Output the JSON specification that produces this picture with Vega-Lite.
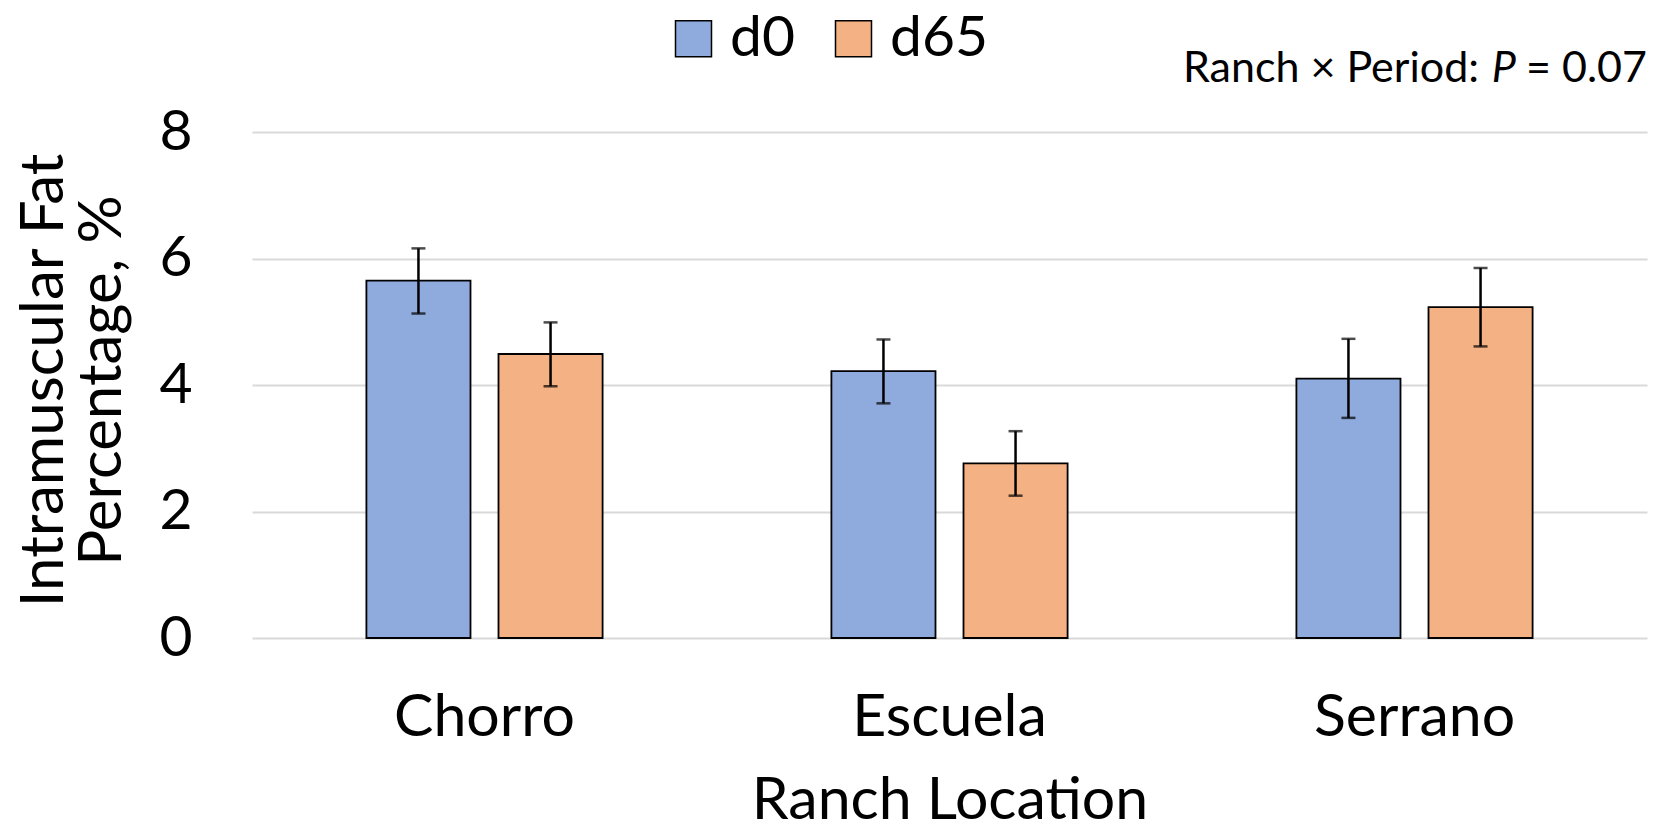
{
  "$schema": "https://vega.github.io/schema/vega-lite/v6.json",
  "autosize": "none",
  "width": 1395,
  "height": 506,
  "padding": {"left": 252, "top": 132, "right": 16, "bottom": 194},
  "background": "white",
  "config": {
    "font": "Lato",
    "view": {"stroke": null},
    "axis": {"labelColor": "black", "titleColor": "black", "labelFont": "Lato", "titleFont": "Lato", "titleFontWeight": "normal", "labelLimit": 0, "titleLimit": 0}
  },
  "data": {
    "values": [
      {"ranch": "Chorro", "period": "d0", "imf": 5.65, "lo": 5.13, "hi": 6.16},
      {"ranch": "Chorro", "period": "d65", "imf": 4.49, "lo": 3.98, "hi": 4.99},
      {"ranch": "Escuela", "period": "d0", "imf": 4.22, "lo": 3.71, "hi": 4.72},
      {"ranch": "Escuela", "period": "d65", "imf": 2.76, "lo": 2.25, "hi": 3.27},
      {"ranch": "Serrano", "period": "d0", "imf": 4.10, "lo": 3.48, "hi": 4.73},
      {"ranch": "Serrano", "period": "d65", "imf": 5.23, "lo": 4.61, "hi": 5.85}
    ]
  },
  "encoding": {
    "x": {
      "field": "ranch", "type": "nominal", "sort": ["Chorro", "Escuela", "Serrano"],
      "scale": {"paddingInner": 0, "paddingOuter": 0},
      "axis": {"title": "Ranch Location", "labelAngle": 0, "labelFontSize": 59, "titleFontSize": 59, "domain": false, "ticks": false, "labelPadding": 50, "titlePadding": 24, "labelLimit": 0}
    },
    "xOffset": {
      "field": "period", "type": "nominal", "sort": ["d0", "d65"],
      "scale": {"paddingInner": 0.212, "paddingOuter": 0.866}
    }
  },
  "layer": [
    {
      "mark": {"type": "bar", "stroke": "black", "strokeWidth": 1.8},
      "encoding": {
        "y": {
          "field": "imf", "type": "quantitative",
          "scale": {"domain": [0, 8], "nice": false},
          "axis": {
            "values": [0, 2, 4, 6, 8], "format": "d", "title": ["Intramuscular Fat", "Percentage, %"],
            "labelFontSize": 57, "titleFontSize": 60, "titleLineHeight": 58,
            "domain": false, "ticks": false, "labelPadding": 60,
            "grid": true, "gridColor": "#d9d9d9", "gridWidth": 2,
            "titleAngle": -90, "titleAlign": "center", "titleBaseline": "top",
            "titleX": -237, "titleY": 248
          }
        },
        "color": {
          "field": "period", "type": "nominal",
          "scale": {"domain": ["d0", "d65"], "range": ["#8FAADC", "#F4B183"]},
          "legend": {
            "title": null, "orient": "none", "direction": "horizontal",
            "legendX": 413, "legendY": -122,
            "symbolType": "square", "symbolSize": 1296, "symbolStrokeColor": "black", "symbolStrokeWidth": 1.5,
            "symbolOpacity": 1,
            "labelFontSize": 57, "labelFont": "Lato", "labelColor": "black", "labelOffset": 8, "columnPadding": 30
          }
        }
      }
    },
    {
      "mark": {"type": "rule", "color": "black", "strokeWidth": 2.5},
      "encoding": {
        "y": {"field": "lo", "type": "quantitative"},
        "y2": {"field": "hi"}
      }
    },
    {
      "mark": {"type": "tick", "color": "black", "size": 14, "thickness": 2.5},
      "encoding": {"y": {"field": "lo", "type": "quantitative"}}
    },
    {
      "mark": {"type": "tick", "color": "black", "size": 14, "thickness": 2.5},
      "encoding": {"y": {"field": "hi", "type": "quantitative"}}
    },
    {
      "data": {"values": [{"ranch": "Serrano", "y": 8.79, "txt": "= 0.07"}]},
      "mark": {"type": "text", "align": "right", "baseline": "alphabetic", "fontSize": 43, "font": "Lato", "color": "black", "clip": false},
      "encoding": {
        "x": {"field": "ranch", "type": "nominal", "bandPosition": 1},
        "y": {"field": "y", "type": "quantitative"},
        "text": {"field": "txt"},
        "xOffset": null
      }
    },
    {
      "data": {"values": [{"ranch": "Serrano", "y": 8.79, "txt": "P"}]},
      "mark": {"type": "text", "align": "right", "baseline": "alphabetic", "fontSize": 43, "font": "Lato", "fontStyle": "italic", "color": "black", "dx": -131, "clip": false},
      "encoding": {
        "x": {"field": "ranch", "type": "nominal", "bandPosition": 1},
        "y": {"field": "y", "type": "quantitative"},
        "text": {"field": "txt"},
        "xOffset": null
      }
    },
    {
      "data": {"values": [{"ranch": "Serrano", "y": 8.79, "txt": "Ranch × Period:"}]},
      "mark": {"type": "text", "align": "right", "baseline": "alphabetic", "fontSize": 43, "font": "Lato", "color": "black", "dx": -168, "clip": false},
      "encoding": {
        "x": {"field": "ranch", "type": "nominal", "bandPosition": 1},
        "y": {"field": "y", "type": "quantitative"},
        "text": {"field": "txt"},
        "xOffset": null
      }
    }
  ]
}
